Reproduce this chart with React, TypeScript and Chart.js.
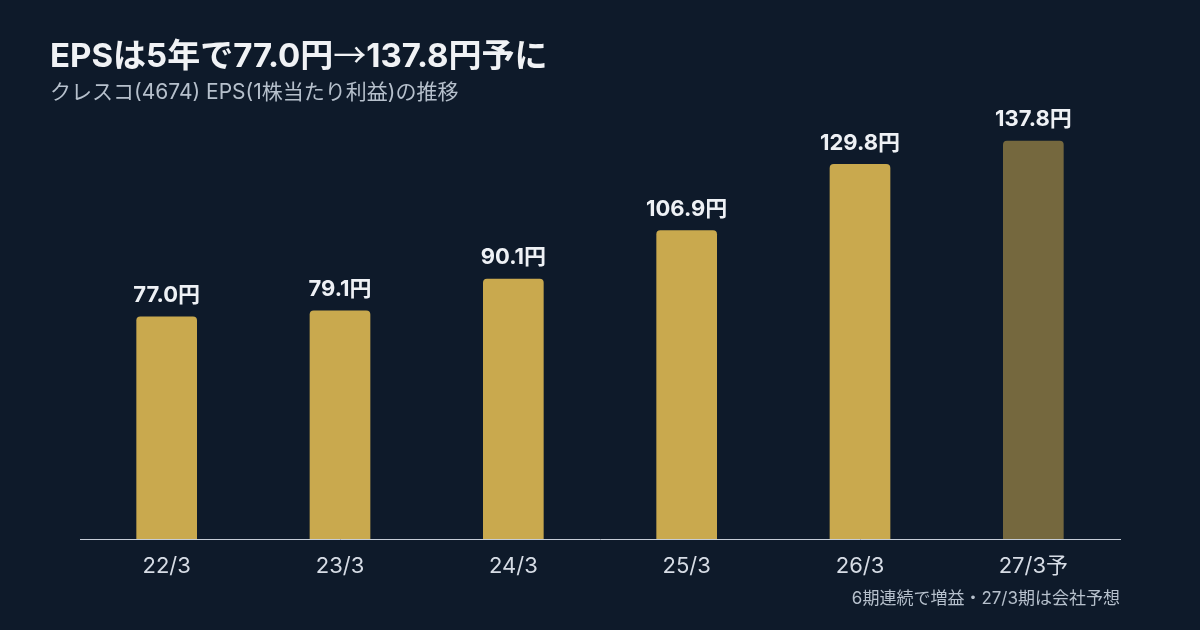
import { useEffect, useRef } from "react"
import { Chart, registerables } from "chart.js"

Chart.register(...registerables)

const periods = ["22/3", "23/3", "24/3", "25/3", "26/3", "27/3予"]
const epsValues = [77.0, 79.1, 90.1, 106.9, 129.8, 137.8]
const barColors = ["#c9a94e", "#c9a94e", "#c9a94e", "#c9a94e", "#c9a94e", "#75683e"]

const FONT = "Inter, 'Noto Sans CJK JP', sans-serif"

// 棒の上に値を描く
const valueLabels = {
  id: "valueLabels",
  afterDatasetsDraw(chart: Chart) {
    const ctx = chart.ctx
    const meta = chart.getDatasetMeta(0)
    ctx.save()
    ctx.font = `bold 22px ${FONT}`
    ctx.fillStyle = "#eef1f5"
    ctx.textAlign = "center"
    ctx.textBaseline = "middle"
    meta.data.forEach((bar: any, i: number) => {
      ctx.fillText(`${epsValues[i].toFixed(1)}円`, bar.x, bar.y - 21)
    })
    ctx.restore()
  },
}

function EpsChart() {
  const chartRef = useRef<HTMLCanvasElement>(null)
  const chartInstance = useRef<Chart | null>(null)

  useEffect(() => {
    if (!chartRef.current) return
    if (chartInstance.current) {
      chartInstance.current.destroy()
    }
    const ctx = chartRef.current.getContext("2d")
    if (!ctx) return

    chartInstance.current = new Chart(ctx, {
      type: "bar",
      data: {
        labels: periods,
        datasets: [
          {
            data: epsValues,
            backgroundColor: barColors,
            borderRadius: 4,
            borderSkipped: "bottom",
            barPercentage: 0.7,
            categoryPercentage: 0.5,
          },
        ],
      },
      options: {
        animation: false,
        responsive: false,
        maintainAspectRatio: false,
        layout: {
          padding: { left: 80, right: 80, top: 105.6, bottom: 44.6 },
        },
        plugins: {
          legend: { display: false },
          tooltip: { enabled: false },
        },
        scales: {
          x: {
            grid: { display: false },
            border: { display: true, color: "#c5ccd6", width: 1 },
            ticks: {
              color: "#d6dce5",
              padding: 6,
              font: { family: FONT, size: 22 },
            },
          },
          y: {
            display: false,
            min: 0,
            max: 150,
          },
        },
      },
      plugins: [valueLabels],
    })

    return () => {
      if (chartInstance.current) {
        chartInstance.current.destroy()
        chartInstance.current = null
      }
    }
  }, [])

  return <canvas ref={chartRef} width={1200} height={630} style={{ position: "absolute", left: 0, top: 0 }} />
}

export default function App() {
  return (
    <div
      style={{
        position: "absolute",
        left: 0,
        top: 0,
        width: 1200,
        height: 630,
        background: "#0e1a2a",
        fontFamily: FONT,
        overflow: "hidden",
      }}
    >
      <EpsChart />
      <div
        style={{
          position: "absolute",
          left: 50,
          top: 33,
          fontSize: 33,
          fontWeight: 700,
          color: "#f0f2f5",
          lineHeight: "40px",
          whiteSpace: "nowrap",
        }}
      >
        EPSは5年で77.0円<span style={{ fontFamily: "'Noto Sans CJK JP'", fontWeight: 400 }}>→</span>137.8円予に
      </div>
      <div
        style={{
          position: "absolute",
          left: 50,
          top: 79,
          fontSize: 21,
          color: "#b6c0cc",
          lineHeight: "26px",
          whiteSpace: "nowrap",
        }}
      >
        クレスコ(4674) EPS(1株当たり利益)の推移
      </div>
      <div
        style={{
          position: "absolute",
          right: 80,
          top: 587,
          fontSize: 17,
          color: "#b6c0cc",
          lineHeight: "22px",
          whiteSpace: "nowrap",
        }}
      >
        6期連続で増益・27/3期は会社予想
      </div>
    </div>
  )
}
